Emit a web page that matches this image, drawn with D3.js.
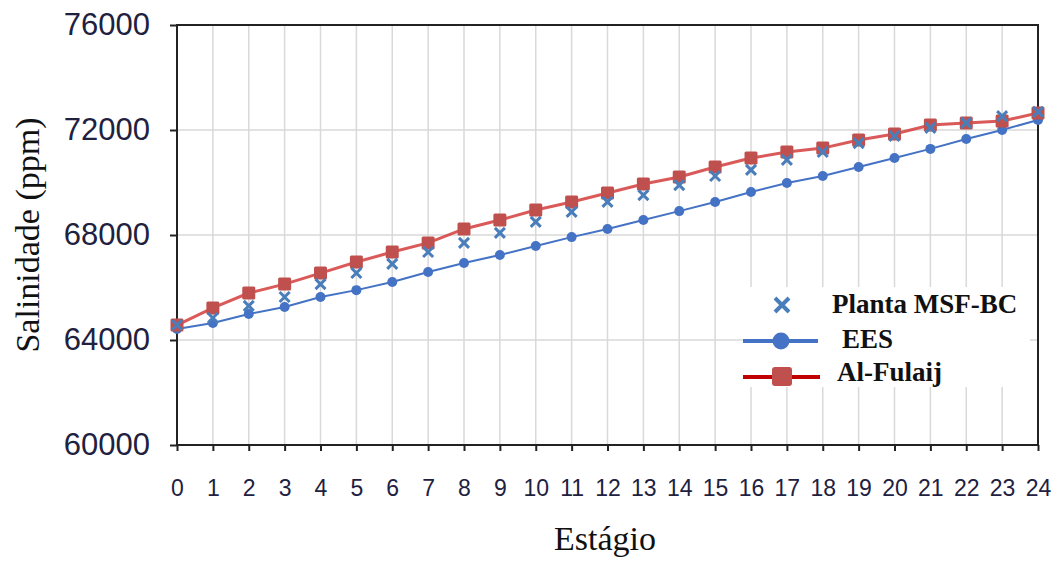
<!DOCTYPE html>
<html>
<head>
<meta charset="utf-8">
<script src="https://cdn.jsdelivr.net/npm/d3@7"></script>
<style>
  body { margin: 0; background: #fff; }
  svg { display: block; }
</style>
</head>
<body>
<div id="chart"></div>
<script>
/* data */
var stages = d3.range(0, 25);
var planta = [64570, 64840, 65300, 65640, 66130, 66550, 66900, 67350, 67700, 68080, 68500, 68880, 69260, 69520, 69900, 70250, 70480, 70860, 71160, 71500, 71770, 72080, 72270, 72530, 72690];
var ees = [64420, 64650, 64990, 65260, 65640, 65900, 66210, 66590, 66930, 67240, 67580, 67920, 68230, 68570, 68910, 69260, 69640, 69980, 70250, 70590, 70930, 71280, 71660, 72000, 72380];
var fulaij = [64570, 65220, 65790, 66130, 66550, 66970, 67350, 67700, 68230, 68570, 68950, 69260, 69600, 69940, 70210, 70590, 70930, 71160, 71310, 71620, 71850, 72190, 72270, 72340, 72650];
var yTicks = [60000, 64000, 68000, 72000, 76000];

/* setup */
var W = 1059, H = 561;
var pLeft = 177, pRight = 1038, pTop = 25, pBottom = 445;

var x = d3.scaleLinear().domain([0, 24]).range([pLeft, pRight]);
var y = d3.scaleLinear().domain([60000, 76000]).range([pBottom, pTop]);

var svg = d3.select('#chart').append('svg')
    .attr('width', W)
    .attr('height', H);

// grid
svg.append('g').selectAll('line')
    .data(stages.slice(1, 24))
  .enter().append('line')
    .attr('x1', function (d) { return x(d); })
    .attr('x2', function (d) { return x(d); })
    .attr('y1', pTop).attr('y2', pBottom)
    .attr('stroke', '#d9d9d9').attr('stroke-width', 1.5);

svg.append('g').selectAll('line')
    .data(yTicks.slice(1, 4))
  .enter().append('line')
    .attr('y1', function (d) { return y(d); })
    .attr('y2', function (d) { return y(d); })
    .attr('x1', pLeft).attr('x2', pRight)
    .attr('stroke', '#d9d9d9').attr('stroke-width', 1.5);

// axes
var yAxis = svg.append('g')
    .attr('transform', 'translate(' + pLeft + ',0)')
    .call(d3.axisLeft(y).tickValues(yTicks).tickSize(7).tickPadding(20).tickFormat(d3.format('d')));
yAxis.select('.domain').remove();
yAxis.selectAll('line').attr('stroke', '#222').attr('stroke-width', 2);
yAxis.selectAll('text')
    .attr('font-family', 'Liberation Sans, Arial, sans-serif')
    .attr('font-size', 31).attr('fill', '#1e2140');

var xAxis = svg.append('g')
    .attr('transform', 'translate(0,' + pBottom + ')')
    .call(d3.axisBottom(x).tickValues(stages).tickSize(6).tickPadding(29).tickFormat(d3.format('d')));
xAxis.select('.domain').remove();
xAxis.selectAll('line').attr('stroke', '#222').attr('stroke-width', 2);
xAxis.selectAll('text')
    .attr('font-family', 'Liberation Sans, Arial, sans-serif')
    .attr('font-size', 23).attr('fill', '#1e2140');

// frame
svg.append('rect')
    .attr('x', pLeft).attr('y', pTop)
    .attr('width', pRight - pLeft).attr('height', pBottom - pTop)
    .attr('fill', 'none').attr('stroke', '#222').attr('stroke-width', 2);

// axis titles
svg.append('text')
    .attr('transform', 'translate(39,235) rotate(-90)')
    .attr('text-anchor', 'middle')
    .attr('font-family', 'Liberation Serif, Times New Roman, serif')
    .attr('font-size', 34).attr('fill', '#111')
    .text('Salinidade (ppm)');

svg.append('text')
    .attr('x', 605).attr('y', 550)
    .attr('text-anchor', 'middle')
    .attr('font-family', 'Liberation Serif, Times New Roman, serif')
    .attr('font-size', 34).attr('fill', '#111')
    .text('Estágio');

/* series */
var line = d3.line()
    .x(function (d, i) { return x(stages[i]); })
    .y(function (d) { return y(d); });

var redLine = '#d43c3c', redFill = '#c0504d', blue = '#4472c4', xBlue = '#4a7ebb';

svg.append('path').datum(ees)
    .attr('d', line).attr('fill', 'none')
    .attr('stroke', blue).attr('stroke-width', 2);

svg.append('g').selectAll('circle')
    .data(ees)
  .enter().append('circle')
    .attr('cx', function (d, i) { return x(stages[i]); })
    .attr('cy', function (d) { return y(d); })
    .attr('r', 5).attr('fill', blue);

svg.append('path').datum(fulaij)
    .attr('d', line).attr('fill', 'none')
    .attr('stroke', redLine).attr('stroke-width', 3).attr('opacity', 0.85);

svg.append('g').selectAll('rect')
    .data(fulaij)
  .enter().append('rect')
    .attr('x', function (d, i) { return x(stages[i]) - 6.5; })
    .attr('y', function (d) { return y(d) - 6.5; })
    .attr('width', 13).attr('height', 13).attr('rx', 1.5)
    .attr('fill', redFill);

function cross(g, cx, cy, s, w) {
  g.append('path')
    .attr('d', 'M' + (cx - s) + ',' + (cy - s) + 'L' + (cx + s) + ',' + (cy + s) +
               'M' + (cx - s) + ',' + (cy + s) + 'L' + (cx + s) + ',' + (cy - s))
    .attr('stroke', xBlue).attr('stroke-width', w).attr('fill', 'none');
}

var gx = svg.append('g');
planta.forEach(function (d, i) { cross(gx, x(stages[i]), y(d), 5, 3); });

/* legend */
var lg = svg.append('g');
lg.append('rect')
    .attr('x', 743).attr('y', 287).attr('width', 287).attr('height', 100)
    .attr('fill', '#fff');

cross(lg, 782, 305, 7, 4);
lg.append('line').attr('x1', 743).attr('x2', 818).attr('y1', 341).attr('y2', 341)
    .attr('stroke', blue).attr('stroke-width', 4);
lg.append('circle').attr('cx', 781).attr('cy', 341).attr('r', 8.5).attr('fill', blue);
lg.append('line').attr('x1', 743).attr('x2', 820).attr('y1', 377).attr('y2', 377)
    .attr('stroke', '#c00000').attr('stroke-width', 4);
lg.append('rect').attr('x', 772).attr('y', 367).attr('width', 20).attr('height', 19)
    .attr('rx', 3).attr('fill', redFill);

var legendText = ['Planta MSF-BC', 'EES', 'Al-Fulaij'];
var legendX = [832, 842, 837];
var legendY = [313, 348, 381];
lg.selectAll('text')
    .data(legendText)
  .enter().append('text')
    .attr('x', function (d, i) { return legendX[i]; })
    .attr('y', function (d, i) { return legendY[i]; })
    .attr('font-family', 'Liberation Serif, Times New Roman, serif')
    .attr('font-weight', 'bold')
    .attr('font-size', 27).attr('fill', '#111')
    .text(function (d) { return d; });
</script>
</body>
</html>
